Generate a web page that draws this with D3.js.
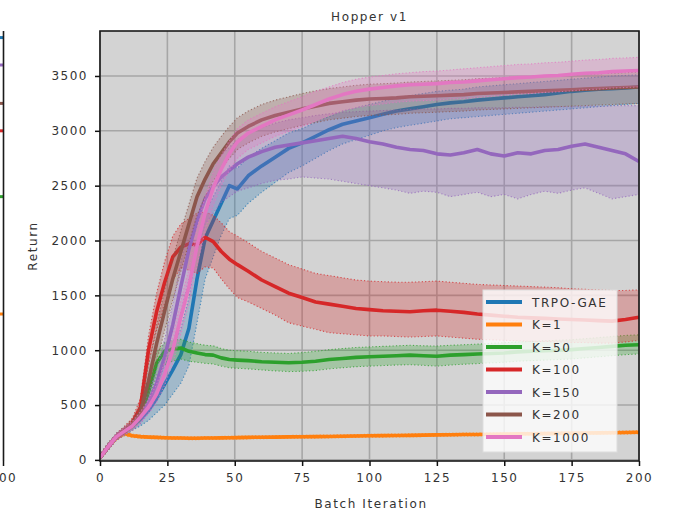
<!DOCTYPE html>
<html><head><meta charset="utf-8">
<script src="https://cdn.jsdelivr.net/npm/d3@7/dist/d3.min.js"></script>
<style>body{margin:0;background:#fff}svg{display:block}text{font-family:"DejaVu Sans",sans-serif}</style>
</head><body><svg id="c" width="682" height="514"></svg>
<script>
// ---- data ----
const iterations = [0,3,6,9,12,15,18,21,24,27,30,33,36,39,42,45,48,51,55,60,65,70,75,80,85,90,95,100,105,110,115,120,125,130,135,140,145,150,155,160,165,170,175,180,185,190,195,200];

const seriesNames = ["TRPO-GAE","K=1","K=50","K=100","K=150","K=200","K=1000"];

const trpoMean = [20,120,210,260,310,370,450,560,690,820,960,1200,1650,2020,2180,2340,2500,2470,2590,2680,2760,2840,2890,2950,3010,3060,3090,3120,3150,3180,3200,3220,3240,3255,3265,3280,3290,3300,3310,3320,3330,3345,3360,3370,3380,3385,3390,3400];
const trpoLow  = [0,90,180,225,270,310,360,430,500,600,700,860,1250,1650,1850,2050,2200,2230,2340,2440,2530,2620,2680,2750,2820,2880,2920,2960,3000,3030,3050,3070,3090,3110,3120,3130,3140,3150,3160,3170,3180,3190,3200,3210,3220,3230,3240,3250];
const trpoHigh = [45,150,240,295,350,430,540,700,860,1020,1200,1480,1950,2250,2400,2540,2680,2660,2760,2840,2910,2980,3020,3080,3130,3180,3210,3240,3270,3300,3320,3340,3360,3370,3380,3400,3410,3420,3430,3440,3450,3460,3470,3480,3490,3500,3505,3510];

const k1Mean = [20,120,200,240,220,212,208,205,202,200,199,198,198,199,200,201,202,203,205,207,208,210,211,212,214,216,218,220,221,223,224,226,228,229,231,232,234,236,237,239,240,242,243,245,246,248,250,252];
const k1Low  = [5,95,180,220,205,198,195,192,189,187,186,185,185,186,187,188,189,190,192,194,195,197,198,199,201,203,205,207,208,210,211,213,215,216,218,219,221,223,224,226,227,229,230,232,233,235,237,239];
const k1High = [35,145,220,260,235,226,221,218,215,213,212,211,211,212,213,214,215,216,218,220,221,223,224,225,227,229,231,233,234,236,237,239,241,242,244,245,247,249,250,252,253,255,256,258,259,261,263,265];

const k50Mean = [20,120,210,260,310,400,620,880,990,1010,1020,990,975,960,955,930,915,910,905,895,890,885,890,900,915,925,935,940,945,950,955,950,945,955,960,965,970,975,985,990,995,1000,1005,1015,1025,1035,1045,1050];
const k50Low  = [0,90,180,225,270,350,540,770,870,900,920,900,890,880,875,855,840,835,830,820,812,805,808,815,830,840,850,855,860,865,868,862,855,865,872,878,885,890,900,905,910,915,920,930,940,950,960,965];
const k50High = [45,150,240,295,350,450,700,980,1070,1090,1100,1075,1060,1045,1040,1015,1000,995,990,980,975,970,978,990,1005,1015,1025,1030,1035,1040,1045,1040,1038,1045,1050,1055,1062,1068,1075,1080,1086,1090,1096,1105,1115,1125,1135,1140];

const k100Mean = [20,120,210,270,340,480,1000,1350,1620,1850,1940,1970,1960,2030,1990,1900,1830,1780,1720,1640,1580,1520,1480,1440,1420,1400,1380,1370,1360,1355,1350,1360,1365,1355,1345,1330,1320,1310,1300,1295,1290,1285,1280,1275,1270,1265,1280,1300];
const k100Low  = [0,90,180,235,300,420,880,1180,1430,1640,1750,1730,1700,1760,1750,1650,1560,1480,1440,1380,1320,1250,1220,1190,1160,1150,1140,1130,1130,1125,1120,1125,1130,1120,1110,1100,1095,1090,1085,1080,1080,1075,1070,1070,1065,1065,1075,1090];
const k100High = [45,150,240,305,380,560,1130,1520,1810,2040,2150,2200,2250,2260,2230,2160,2080,2040,1980,1900,1840,1780,1740,1700,1680,1660,1640,1630,1625,1620,1620,1625,1630,1620,1610,1600,1595,1590,1585,1580,1575,1570,1560,1555,1550,1545,1545,1550];

const k150Mean = [20,120,210,260,310,390,520,700,940,1230,1580,1920,2180,2380,2490,2580,2640,2700,2760,2810,2850,2870,2890,2910,2930,2950,2930,2900,2880,2850,2830,2820,2790,2780,2800,2830,2790,2770,2800,2790,2820,2830,2860,2880,2850,2820,2790,2720];
const k150Low  = [0,90,180,225,270,330,430,580,780,1040,1350,1650,1900,2150,2250,2350,2400,2450,2480,2520,2550,2560,2580,2570,2560,2540,2520,2500,2480,2460,2430,2450,2440,2400,2420,2440,2400,2420,2380,2420,2450,2430,2460,2480,2430,2380,2400,2420];
const k150High = [45,150,240,295,350,450,610,820,1100,1420,1800,2150,2400,2560,2680,2780,2850,2920,2980,3030,3070,3100,3120,3140,3155,3170,3175,3180,3185,3190,3195,3200,3200,3205,3205,3210,3210,3210,3215,3215,3220,3220,3220,3225,3225,3228,3230,3230];

const k200Mean = [20,120,210,265,330,430,720,1060,1360,1650,1900,2150,2400,2560,2700,2800,2900,2980,3040,3100,3140,3170,3200,3225,3250,3265,3280,3290,3295,3300,3310,3315,3320,3325,3330,3340,3345,3350,3355,3360,3365,3370,3375,3380,3385,3390,3395,3400];
const k200Low  = [0,90,180,230,290,370,600,900,1180,1460,1720,1980,2230,2400,2540,2650,2750,2830,2890,2950,2990,3020,3050,3075,3100,3115,3130,3140,3145,3150,3160,3165,3170,3175,3180,3190,3195,3200,3205,3210,3215,3220,3225,3230,3235,3240,3245,3250];
const k200High = [45,150,240,300,370,500,860,1230,1550,1840,2090,2330,2570,2720,2850,2950,3040,3120,3180,3240,3280,3310,3340,3365,3385,3400,3415,3425,3430,3435,3445,3450,3455,3460,3465,3475,3480,3485,3490,3495,3500,3505,3510,3515,3520,3525,3530,3535];

const k1000Mean = [20,120,210,260,310,390,480,600,780,1000,1300,1580,1950,2250,2480,2650,2790,2900,2980,3040,3100,3145,3190,3240,3290,3330,3360,3380,3395,3410,3420,3425,3430,3440,3445,3455,3465,3475,3485,3490,3500,3505,3515,3525,3530,3540,3545,3550];
const k1000Low  = [0,90,180,225,270,340,420,520,680,880,1150,1420,1780,2080,2320,2500,2640,2750,2830,2890,2950,2995,3040,3090,3140,3180,3210,3230,3245,3260,3270,3275,3280,3290,3295,3305,3315,3325,3335,3340,3350,3355,3365,3375,3380,3390,3395,3400];
const k1000High = [45,150,240,295,350,440,550,690,890,1130,1450,1740,2110,2400,2620,2780,2910,3020,3100,3160,3220,3265,3310,3360,3400,3440,3470,3490,3505,3520,3530,3540,3545,3555,3565,3575,3585,3595,3605,3610,3620,3625,3635,3645,3650,3660,3665,3670];

// ends of the neighbouring (cropped) panel visible at the far left
const leftPanelEndValues = [3850,3600,3250,3000,2400,1330];
const leftPanelEndColors = ["#1f77b4","#9467bd","#8c564b","#d62728","#2ca02c","#ff7f0e"];

const xTicks = [0,25,50,75,100,125,150,175,200];
const yTicks = [0,500,1000,1500,2000,2500,3000,3500];
const colors = ["#1f77b4","#ff7f0e","#2ca02c","#d62728","#9467bd","#8c564b","#e377c2"];

const means = [trpoMean,k1Mean,k50Mean,k100Mean,k150Mean,k200Mean,k1000Mean];
const lows  = [trpoLow,k1Low,k50Low,k100Low,k150Low,k200Low,k1000Low];
const highs = [trpoHigh,k1High,k50High,k100High,k150High,k200High,k1000High];

// ---- layout ----
const L=100, R=639, T=31, B=461;
const svg = d3.select("#c");
const x = d3.scaleLinear().domain([0,200]).range([L,R]);
const y = d3.scaleLinear().domain([-10,3910]).range([B,T]);

svg.append("rect").attr("x",L).attr("y",T).attr("width",R-L).attr("height",B-T).attr("fill","#d3d3d3");

// grid
const g = svg.append("g");
g.selectAll(".gx").data(xTicks).join("line")
  .attr("x1",d=>x(d)).attr("x2",d=>x(d)).attr("y1",T).attr("y2",B)
  .attr("stroke","#a6a6a6").attr("stroke-width",1.6);
g.selectAll(".gy").data(yTicks).join("line")
  .attr("x1",L).attr("x2",R).attr("y1",d=>y(d)).attr("y2",d=>y(d))
  .attr("stroke","#a6a6a6").attr("stroke-width",1.6);

const clip = svg.append("clipPath").attr("id","pc").append("rect")
  .attr("x",L).attr("y",T).attr("width",R-L).attr("height",B-T);
const plot = svg.append("g").attr("clip-path","url(#pc)");

const area = d3.area().x((d,i)=>x(iterations[i])).y0(d=>y(d[0])).y1(d=>y(d[1]));
const line = d3.line().x((d,i)=>x(iterations[i])).y(d=>y(d));

means.forEach((m,s)=>{
  const band = m.map((v,i)=>[lows[s][i],highs[s][i]]);
  plot.append("path").attr("d",area(band)).attr("fill",colors[s]).attr("fill-opacity",0.28);
  [lows[s],highs[s]].forEach(edge=>{
    plot.append("path").attr("d",line(edge)).attr("fill","none")
      .attr("stroke",colors[s]).attr("stroke-width",1.1).attr("stroke-opacity",0.75)
      .attr("stroke-dasharray","1.2,2.2");
  });
  plot.append("path").attr("d",line(m)).attr("fill","none")
    .attr("stroke",colors[s]).attr("stroke-width",3.6).attr("stroke-linejoin","round");
});

// frame
svg.append("rect").attr("x",L).attr("y",T).attr("width",R-L).attr("height",B-T)
  .attr("fill","none").attr("stroke","#1a1a1a").attr("stroke-width",1.6);

// axes
const ax = svg.append("g").attr("transform",`translate(0,${B})`)
  .call(d3.axisBottom(x).tickValues(xTicks).tickSize(5).tickPadding(7).tickFormat(d3.format("d")));
const ay = svg.append("g").attr("transform",`translate(${L},0)`)
  .call(d3.axisLeft(y).tickValues(yTicks).tickSize(5).tickPadding(7).tickFormat(d3.format("d")));
[ax,ay].forEach(a=>{
  a.select(".domain").remove();
  a.selectAll(".tick line").attr("stroke","#111").attr("stroke-width",1.5);
  a.selectAll(".tick text").attr("fill","#333").style("font-size","12px").style("letter-spacing","1.5px")
    .style("font-family","'DejaVu Sans',sans-serif");
});

// titles
svg.append("text").attr("x",(L+R)/2).attr("y",21).attr("text-anchor","middle")
  .attr("fill","#333").style("font-size","12px").style("letter-spacing","1.6px").text("Hopper v1");
svg.append("text").attr("x",371).attr("y",508).attr("text-anchor","middle")
  .attr("fill","#333").style("font-size","12px").style("letter-spacing","1.6px").text("Batch Iteration");
svg.append("text").attr("transform",`translate(37,${(T+B)/2}) rotate(-90)`).attr("text-anchor","middle")
  .attr("fill","#333").style("font-size","12px").style("letter-spacing","1.6px").text("Return");

// legend
const lg = svg.append("g");
lg.append("rect").attr("x",483).attr("y",290).attr("width",134).attr("height",162)
  .attr("fill","#ffffff").attr("fill-opacity",0.8).attr("stroke","#dddddd").attr("stroke-width",1);
seriesNames.forEach((n,i)=>{
  const yy = 302 + i*22.5;
  lg.append("line").attr("x1",486).attr("x2",522).attr("y1",yy).attr("y2",yy)
    .attr("stroke",colors[i]).attr("stroke-width",4);
  lg.append("text").attr("x",532).attr("y",yy+4.5).attr("fill","#333")
    .style("font-size","12px").style("letter-spacing","1.6px").text(n);
});

// cropped neighbouring panel on the left
const lp = svg.append("g");
leftPanelEndValues.forEach((v,i)=>{
  lp.append("line").attr("x1",0).attr("x2",3).attr("y1",y(v)).attr("y2",y(v))
    .attr("stroke",leftPanelEndColors[i]).attr("stroke-width",3);
});
lp.append("line").attr("x1",3.5).attr("x2",3.5).attr("y1",T).attr("y2",B).attr("stroke","#1a1a1a").attr("stroke-width",1.6);
lp.append("line").attr("x1",3.5).attr("x2",3.5).attr("y1",B).attr("y2",B+5).attr("stroke","#111").attr("stroke-width",1.5);
lp.append("text").attr("x",3.5).attr("y",B+21).attr("text-anchor","middle").attr("fill","#333")
  .style("font-size","12px").style("letter-spacing","1.5px").text("200");
</script></body></html>
